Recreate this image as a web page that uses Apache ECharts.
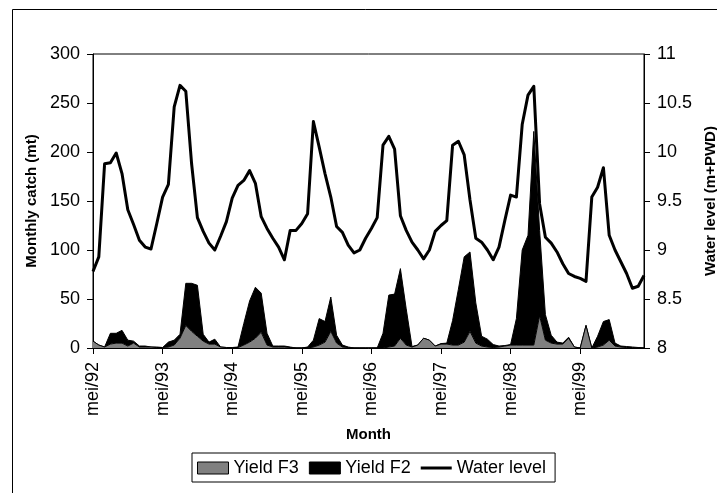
<!DOCTYPE html>
<html>
<head>
<meta charset="utf-8">
<title>Monthly catch and water level</title>
<script src="https://cdn.jsdelivr.net/npm/echarts@6/dist/echarts.min.js"></script>
<style>
  html, body { margin: 0; padding: 0; background: #fff; }
  #chart { width: 717px; height: 493px; }
</style>
</head>
<body>
<div id="chart"></div>
<script>
// Month labels (Dutch abbreviations), May 1992 – April 2000
const monthNames = ['mei', 'jun', 'jul', 'aug', 'sep', 'okt', 'nov', 'dec', 'jan', 'feb', 'mrt', 'apr'];
const startYear = 92;
const monthCount = 96;

// Monthly catch of the F3 fishery (mt)
const yieldF3 = [
  7, 3, 1, 4, 5, 5, 2, 5, 1, 1, 1, 0.5,
  0.5, 1, 3, 10, 23, 17, 12, 7, 4, 4, 1, 0.5,
  0.5, 0.5, 3, 6, 10, 16, 3, 1, 1, 1, 0.5, 0,
  0, 0, 1, 3, 6, 17, 5, 1, 0.5, 0, 0, 0,
  0, 0, 0, 1, 2, 10, 3, 1, 3, 10, 8, 2,
  4, 4, 3, 3, 6, 17, 5, 2, 1, 0.5, 1, 2,
  3, 3, 3, 3, 3, 33, 8, 5, 4, 4, 10, 1,
  0, 23, 0, 1, 3, 8, 2, 1, 0.5, 0.5, 0, 0
];

// Monthly catch of the F2 fishery (mt), stacked on top of F3
const yieldF2 = [
  0, 0, 0, 11, 10, 13, 6, 2, 1, 1, 0, 0.5,
  0, 5, 5, 4, 43, 49, 52, 7, 2, 5, 0, 0,
  0, 0.5, 22, 42, 52, 40, 12, 1, 1, 1, 0.5, 0,
  0, 1, 7, 27, 21, 35, 8, 2, 0.5, 0, 0, 0,
  0, 0, 15, 53, 53, 71, 37, 0.5, 0, 0, 0, 0,
  0.5, 1, 25, 57, 87, 81, 41, 10, 8, 3, 1, 0.5,
  0.5, 27, 97, 112, 218, 87, 26, 8, 2, 1, 1, 0,
  0, 0, 0, 11, 24, 21, 3, 1, 1, 0.5, 0.5, 0
];

// Water level (m+PWD)
const waterLevel = [
  8.78, 8.93, 9.88, 9.89, 9.99, 9.78, 9.41, 9.26, 9.10, 9.03, 9.01, 9.27,
  9.54, 9.67, 10.46, 10.68, 10.62, 9.88, 9.33, 9.19, 9.07, 9.00, 9.14, 9.29,
  9.53, 9.66, 9.71, 9.81, 9.68, 9.34, 9.22, 9.12, 9.03, 8.90, 9.20, 9.20,
  9.27, 9.37, 10.31, 10.05, 9.78, 9.54, 9.24, 9.18, 9.05, 8.97, 9.00, 9.12,
  9.22, 9.33, 10.07, 10.16, 10.03, 9.35, 9.20, 9.08, 9.00, 8.91, 9.00, 9.19,
  9.25, 9.30, 10.07, 10.11, 9.97, 9.51, 9.12, 9.08, 9.00, 8.90, 9.03, 9.30,
  9.56, 9.54, 10.28, 10.58, 10.67, 9.47, 9.13, 9.07, 8.98, 8.86, 8.76, 8.73,
  8.71, 8.68, 9.54, 9.64, 9.84, 9.15, 9.00, 8.88, 8.76, 8.61, 8.63, 8.74
];

// Axis ranges and tick steps
const catchAxis = { min: 0, max: 300, step: 50 };
const levelAxis = { min: 8, max: 11, step: 0.5 };

const months = [];
for (let i = 0; i < monthCount; i++) {
  const yy = (startYear + Math.floor((i + 4) / 12)) % 100;
  months.push(monthNames[i % 12] + '/' + String(yy).padStart(2, '0'));
}

const FONT = '"Liberation Sans", Arial, Helvetica, sans-serif';
const chart = echarts.init(document.getElementById('chart'), null, { renderer: 'canvas' });

chart.setOption({
  animation: false,
  backgroundColor: '#fff',
  textStyle: { fontFamily: FONT, color: '#000' },
  graphic: [{
    type: 'rect',
    shape: { x: 12.5, y: 9.5, width: 720, height: 500 },
    style: { fill: 'none', stroke: '#000', lineWidth: 1 },
    silent: true,
    z: -10
  }],
  grid: {
    left: 93, right: 73, top: 54, bottom: 145,
    containLabel: false,
    outerBoundsMode: 'none',
    show: true,
    borderColor: '#000',
    borderWidth: 1,
    backgroundColor: 'transparent'
  },
  legend: {
    left: 192,
    top: 453,
    orient: 'horizontal',
    padding: [6, 9, 5, 5],
    itemGap: 10,
    itemWidth: 31,
    itemHeight: 12,
    borderColor: '#000',
    borderWidth: 1,
    backgroundColor: '#fff',
    textStyle: { fontFamily: FONT, fontSize: 18, color: '#000' },
    data: [
      { name: 'Yield F3', icon: 'rect', itemStyle: { color: '#808080', borderColor: '#000', borderWidth: 1 } },
      { name: 'Yield F2', icon: 'rect', itemStyle: { color: '#000', borderColor: '#000', borderWidth: 1 } },
      { name: 'Water level', icon: 'path://M0,0 L31,0 L31,3 L0,3 Z', itemStyle: { color: '#000', borderWidth: 0 } }
    ]
  },
  xAxis: {
    type: 'category',
    data: months,
    boundaryGap: false,
    name: 'Month',
    nameLocation: 'middle',
    nameGap: 79,
    nameTextStyle: { fontFamily: FONT, fontSize: 15, fontWeight: 'bold', color: '#000' },
    axisLine: { show: true, onZero: false, lineStyle: { color: '#000', width: 1 } },
    axisTick: { show: true, interval: 11, length: 6, inside: false, lineStyle: { color: '#000', width: 1 } },
    axisLabel: {
      interval: 11,
      rotate: 90,
      margin: 14,
      fontFamily: FONT,
      fontSize: 18,
      color: '#000',
      hideOverlap: false
    },
    splitLine: { show: false }
  },
  yAxis: [{
    type: 'value',
    position: 'left',
    min: catchAxis.min,
    max: catchAxis.max,
    interval: catchAxis.step,
    name: 'Monthly catch (mt)',
    nameLocation: 'middle',
    nameGap: 52,
    nameRotate: 90,
    nameTextStyle: { fontFamily: FONT, fontSize: 15, fontWeight: 'bold', color: '#000' },
    axisLine: { show: true, lineStyle: { color: '#000', width: 1 } },
    axisTick: { show: true, length: 6, inside: false, lineStyle: { color: '#000', width: 1 } },
    axisLabel: { margin: 13, fontFamily: FONT, fontSize: 18, color: '#000' },
    splitLine: { show: false }
  }, {
    type: 'value',
    position: 'right',
    min: levelAxis.min,
    max: levelAxis.max,
    interval: levelAxis.step,
    name: 'Water level (m+PWD)',
    nameLocation: 'middle',
    nameGap: 57,
    nameRotate: 90,
    nameTextStyle: { fontFamily: FONT, fontSize: 15, fontWeight: 'bold', color: '#000' },
    axisLine: { show: true, lineStyle: { color: '#000', width: 1 } },
    axisTick: { show: true, length: 6, inside: false, lineStyle: { color: '#000', width: 1 } },
    axisLabel: { margin: 13, fontFamily: FONT, fontSize: 18, color: '#000' },
    splitLine: { show: false }
  }],
  series: [{
    name: 'Yield F3',
    type: 'line',
    stack: 'catch',
    yAxisIndex: 0,
    data: yieldF3,
    symbol: 'none',
    smooth: false,
    lineStyle: { color: '#000', width: 1 },
    itemStyle: { color: '#808080' },
    areaStyle: { color: '#808080', opacity: 1 },
    z: 2
  }, {
    name: 'Yield F2',
    type: 'line',
    stack: 'catch',
    yAxisIndex: 0,
    data: yieldF2,
    symbol: 'none',
    smooth: false,
    lineStyle: { color: '#000', width: 1 },
    itemStyle: { color: '#000' },
    areaStyle: { color: '#000', opacity: 1 },
    z: 1
  }, {
    name: 'Water level',
    type: 'line',
    yAxisIndex: 1,
    data: waterLevel,
    symbol: 'none',
    smooth: false,
    lineStyle: { color: '#000', width: 3, join: 'round' },
    itemStyle: { color: '#000' },
    z: 3
  }]
});
</script>
</body>
</html>
